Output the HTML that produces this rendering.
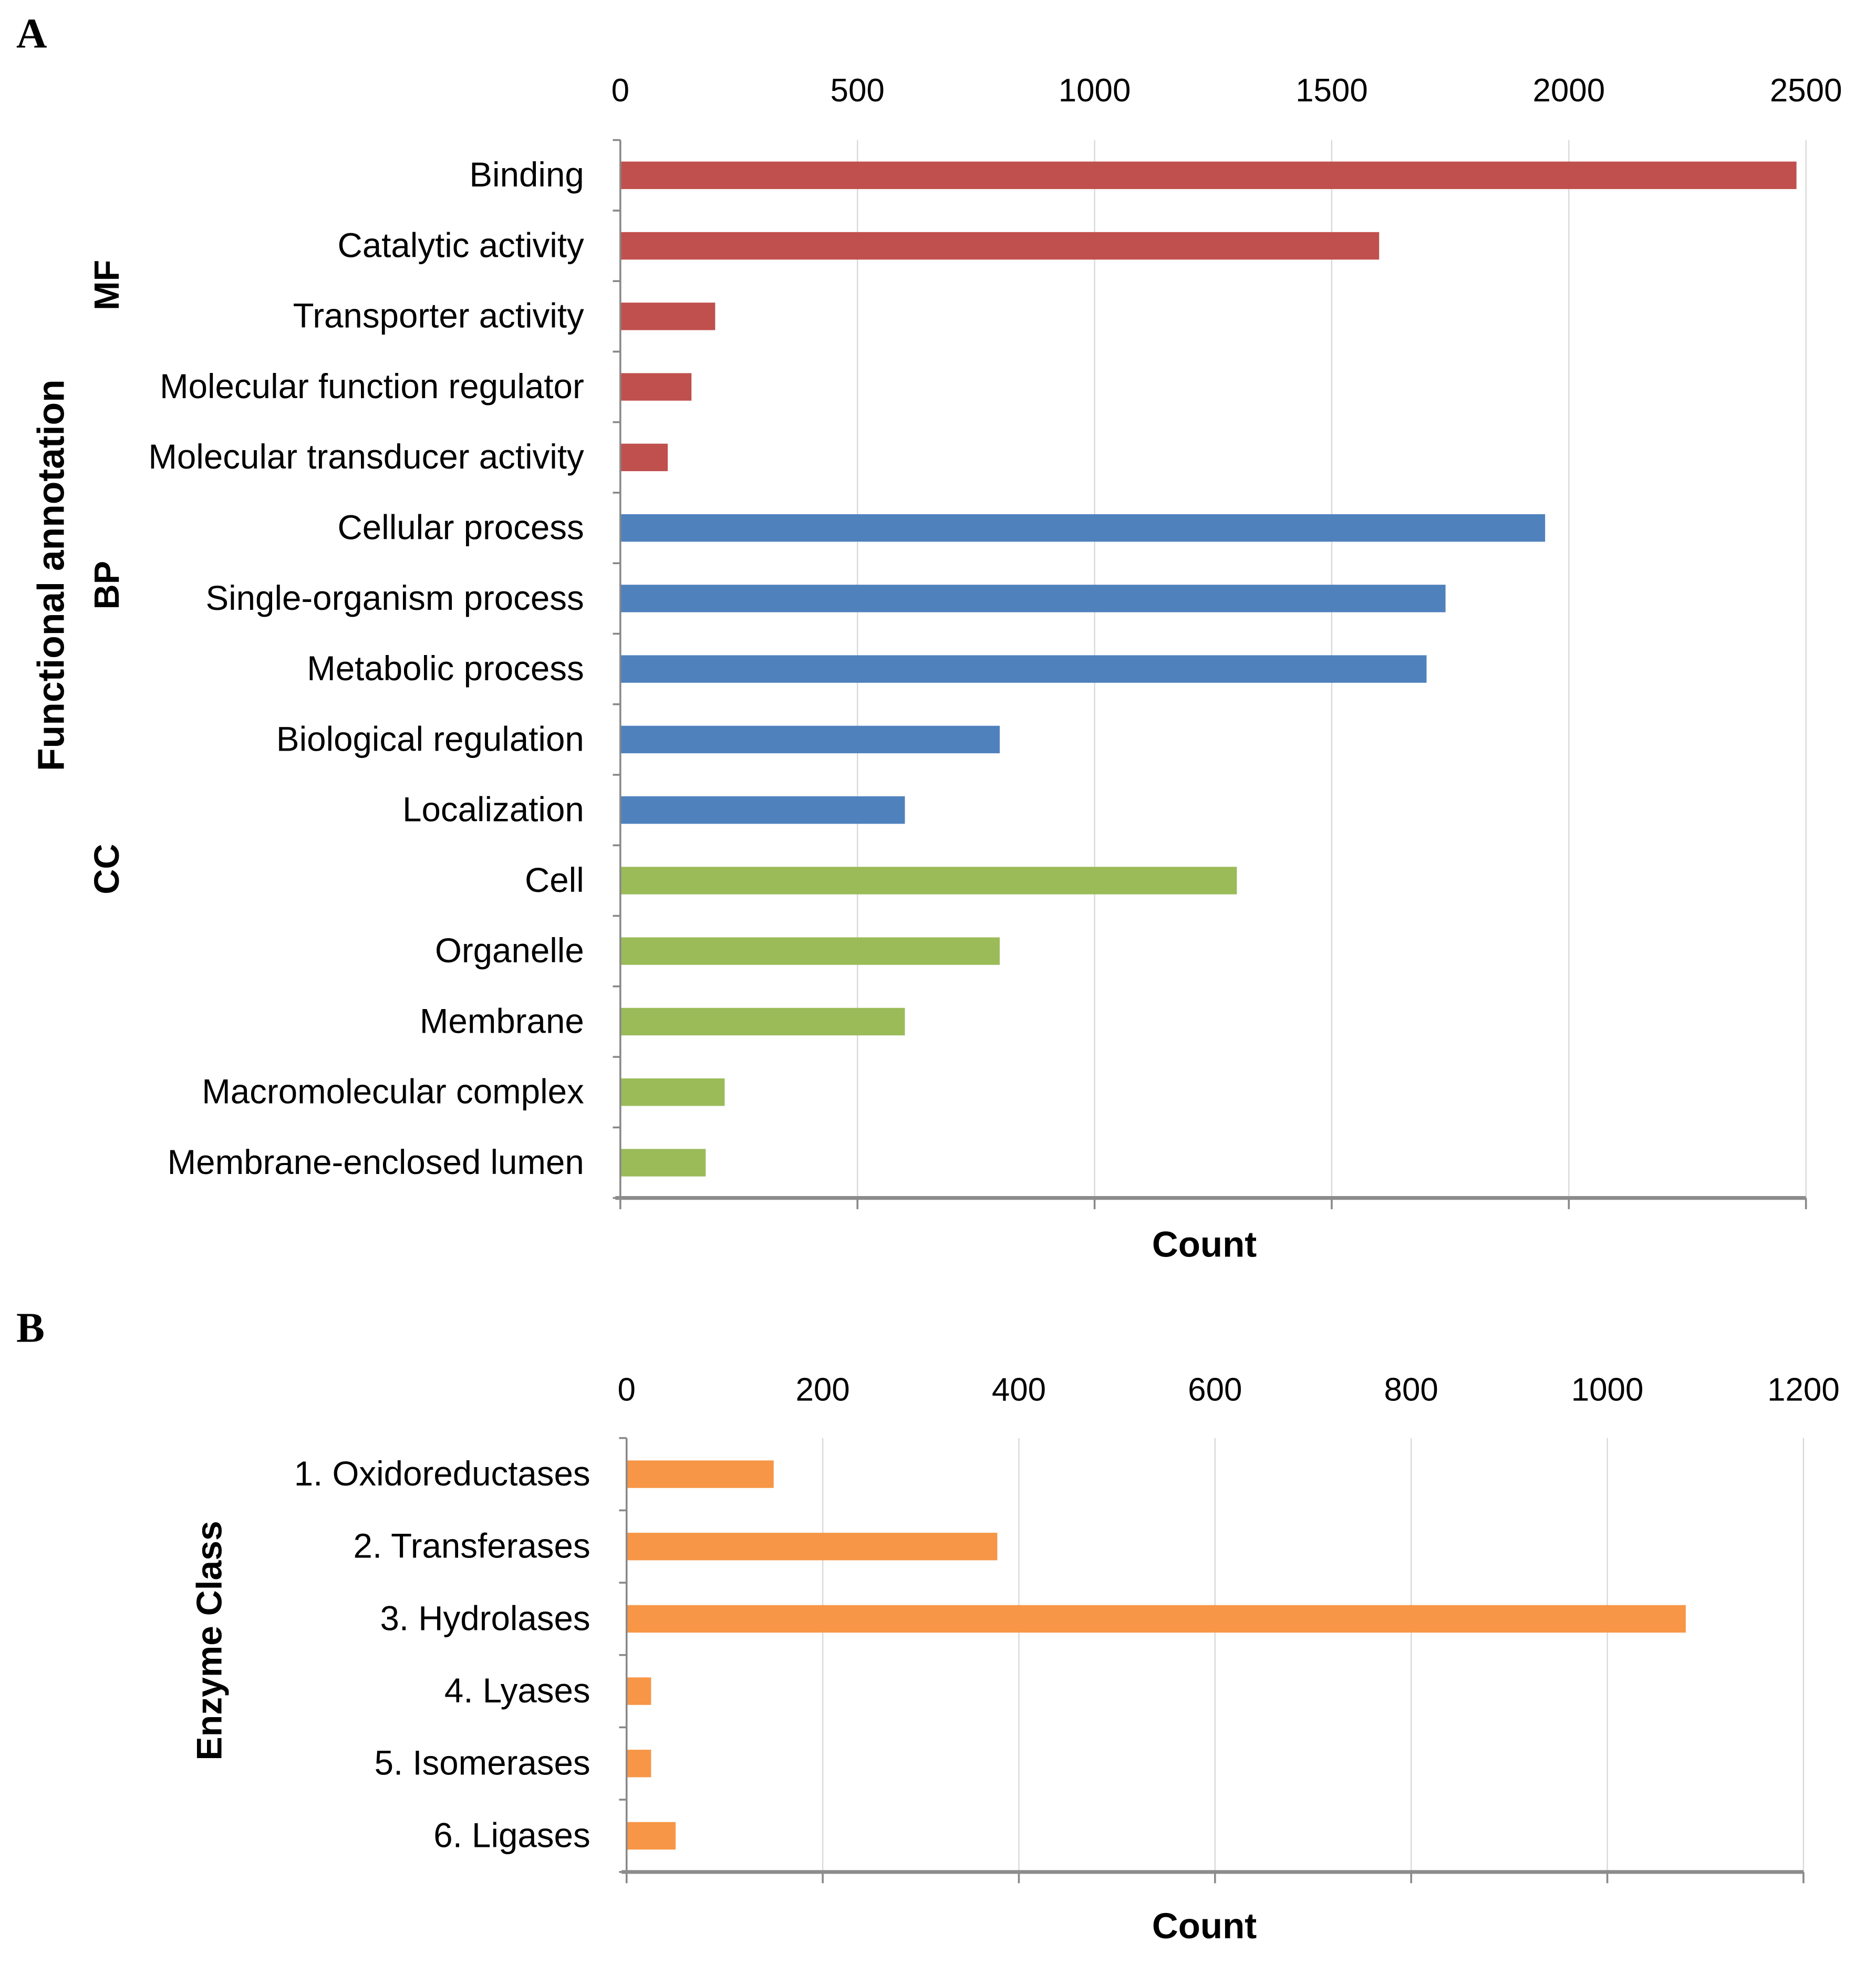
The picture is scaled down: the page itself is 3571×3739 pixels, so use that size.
<!DOCTYPE html>
<html><head><meta charset="utf-8"><style>
html,body{margin:0;padding:0;background:#fff;}
svg{display:block;font-family:"Liberation Sans",sans-serif;}
</style></head><body>
<svg id="fig" width="3571" height="3739" viewBox="0 0 1500 1570.6" preserveAspectRatio="none" xmlns="http://www.w3.org/2000/svg">
<rect width="1500" height="1571" fill="#fff"/>
<text x="13" y="38" font-family="Liberation Serif,serif" font-weight="bold" font-size="34">A</text>
<text x="13" y="1073" font-family="Liberation Serif,serif" font-weight="bold" font-size="34">B</text>
<g id="chartA"></g>
<g id="chartB"></g>
<text transform="translate(51,460) rotate(-90)" text-anchor="middle" font-weight="bold" font-size="30">Functional annotation</text>
<text transform="translate(95,228) rotate(-90)" text-anchor="middle" font-weight="bold" font-size="28">MF</text>
<text transform="translate(95,468) rotate(-90)" text-anchor="middle" font-weight="bold" font-size="28">BP</text>
<text transform="translate(95,695) rotate(-90)" text-anchor="middle" font-weight="bold" font-size="28">CC</text>
<text transform="translate(177,1312) rotate(-90)" text-anchor="middle" font-weight="bold" font-size="28.5">Enzyme Class</text>
</svg>
<script>
const catsA = ["Binding","Catalytic activity","Transporter activity","Molecular function regulator","Molecular transducer activity","Cellular process","Single-organism process","Metabolic process","Biological regulation","Localization","Cell","Organelle","Membrane","Macromolecular complex","Membrane-enclosed lumen"];
const valsA = [2480,1600,200,150,100,1950,1740,1700,800,600,1300,800,600,220,180];
const groupA = ["MF","MF","MF","MF","MF","BP","BP","BP","BP","BP","CC","CC","CC","CC","CC"];
const ticksA = [0,500,1000,1500,2000,2500];
const catsB = ["1. Oxidoreductases","2. Transferases","3. Hydrolases","4. Lyases","5. Isomerases","6. Ligases"];
const valsB = [150,378,1080,25,25,50];
const ticksB = [0,200,400,600,800,1000,1200];
const colors = {MF:"#c0504d",BP:"#4f81bd",CC:"#9bbb59",EC:"#f79646"};
const NS = "http://www.w3.org/2000/svg";
function mk(parent, tag, attrs, txt){
  const e = document.createElementNS(NS, tag);
  for (const k in attrs) e.setAttribute(k, attrs[k]);
  if (txt !== undefined) e.textContent = txt;
  parent.appendChild(e); return e;
}
function drawChart(g, cfg){
  const x = v => cfg.x0 + (v - 0) / cfg.max * (cfg.x1 - cfg.x0);
  const n = cfg.cats.length, band = (cfg.bottom - cfg.top) / n;
  cfg.ticks.forEach(t => {
    const gl = mk(g, "line", {x1:x(t), x2:x(t), y1:cfg.top, y2:cfg.bottom, stroke:"#d9d9d9", "stroke-width":1});
    
    
    const tk = mk(g, "line", {x1:x(t), x2:x(t), y1:cfg.bottom, y2:cfg.bottom+9, stroke:"#888", "stroke-width":1.5});
    
    
    const tl = mk(g, "text", {x:x(t), y:cfg.tickY, "text-anchor":"middle", "font-size":26}, String(t));
    
    
  });
  for (let i = 0; i <= n; i++) {
    const yy = cfg.top + i * band;
    const ct = mk(g, "line", {x1:cfg.x0-6, x2:cfg.x0, y1:yy, y2:yy, stroke:"#888", "stroke-width":1.5});
    
    
  }
  cfg.cats.forEach((c, i) => {
    const cy = cfg.top + (i + 0.5) * band;
    const bar = mk(g, "rect", {x:x(0), y:cy - cfg.bh/2, width:x(cfg.vals[i]) - x(0), height:cfg.bh, fill:cfg.color(i)});
    
    
    const lab = mk(g, "text", {x:cfg.x0 - 29, y:cy + 9, "text-anchor":"end", "font-size":27.5}, c);
    
    
  });
  const ya = mk(g, "line", {x1:cfg.x0, x2:cfg.x0, y1:cfg.top, y2:cfg.bottom, stroke:"#888", "stroke-width":1.5});
  
  
  const xa = mk(g, "line", {x1:cfg.x0-4, x2:cfg.x1, y1:cfg.bottom, y2:cfg.bottom, stroke:"#8c8c8c", "stroke-width":3});
  
  
  const xt = mk(g, "text", {x:963, y:cfg.titleY, "text-anchor":"middle", "font-size":29, "font-weight":"bold"}, "Count");
  
  
}
drawChart(document.getElementById("chartA"), {cats:catsA, vals:valsA, ticks:ticksA, max:2500, x0:496, x1:1444, top:112, bottom:958, tickY:81, bh:22, titleY:1005, color:i=>colors[groupA[i]]});
drawChart(document.getElementById("chartB"), {cats:catsB, vals:valsB, ticks:ticksB, max:1200, x0:501, x1:1442, top:1150, bottom:1497, tickY:1120, bh:22, titleY:1550, color:i=>colors.EC});
</script>
</body></html>
